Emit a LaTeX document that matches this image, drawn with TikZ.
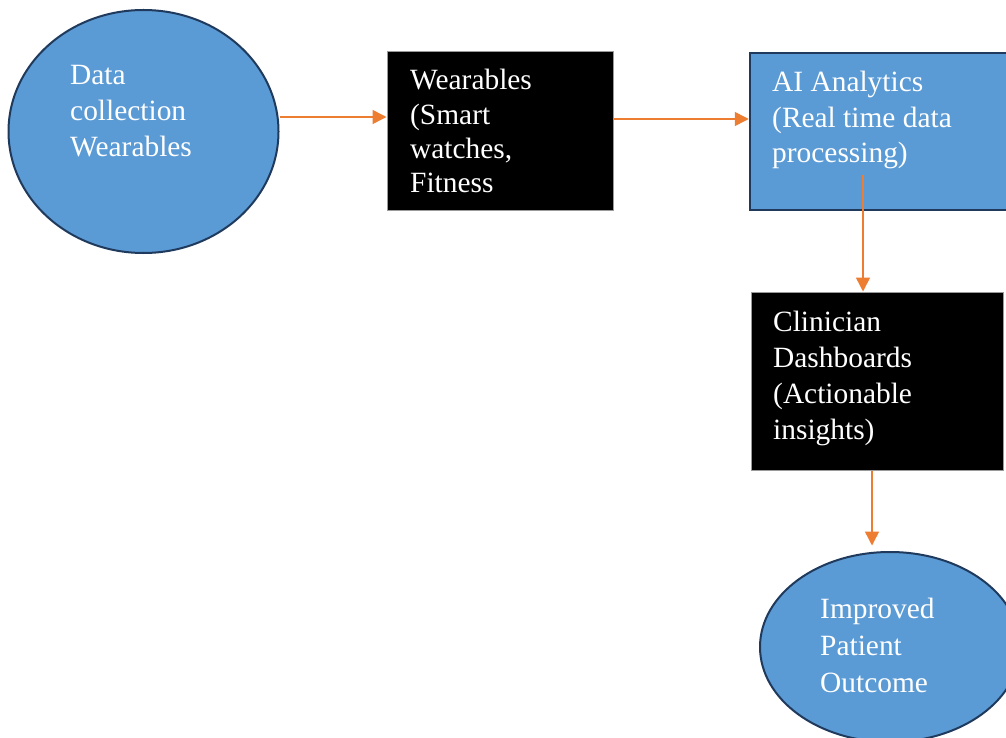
\documentclass[tikz,border=0pt]{standalone}
\usepackage{fontspec}
\setmainfont{Liberation Serif}
\usetikzlibrary{shapes.geometric,arrows.meta}
\definecolor{fillblue}{HTML}{5B9BD5}
\definecolor{edgeblue}{HTML}{1F3A5C}
\definecolor{arroworange}{HTML}{ED7D31}
\definecolor{boxedge}{HTML}{9A9A9A}
\tikzset{
  blueoval/.style={ellipse, fill=fillblue, draw=edgeblue, line width=2pt, inner sep=0pt},
  blackbox/.style={rectangle, fill=black, draw=boxedge, line width=1pt, inner sep=0pt},
  bluebox/.style={rectangle, fill=fillblue, draw=edgeblue, line width=2.5pt, inner sep=0pt},
  txt/.style={anchor=base west, inner sep=0pt, text=white},
  flow/.style={draw=arroworange, line width=1.5pt, -{Triangle[length=14pt,width=14pt]}},
}
\newcommand{\lines}[2]{\fontsize{29.4}{#1}\selectfont\begin{tabular}[t]{@{}l@{}}#2\end{tabular}}
\begin{document}
\begin{tikzpicture}[x=1pt,y=-1pt]
\path[use as bounding box, clip] (0,0) rectangle (1006,738);
\fill[white] (0,0) rectangle (1006,738);
% shapes
\node[blueoval, minimum width=270pt, minimum height=243pt] (e1) at (143.5,131.5) {};
\node[blackbox, minimum width=226pt, minimum height=158pt] (b1) at (500,131) {};
\node[bluebox, minimum width=262pt, minimum height=157pt] (b2) at (881,131.5) {};
\node[blackbox, minimum width=252pt, minimum height=178pt] (b3) at (877,381) {};
\node[blueoval, minimum width=260pt, minimum height=190pt] (e2) at (890,647) {};
% texts
\node[txt] (t1) at (70,85) {\lines{36}{Data\\collection\\Wearables}};
\node[txt] (t2) at (410,90) {\lines{34.3}{Wearables\\(Smart\\watches,\\Fitness}};
\node[txt] (t3) at (772,92) {\lines{35.5}{AI Analytics\\(Real time data\\processing)}};
\node[txt] (t4) at (773,331) {\lines{36.3}{Clinician\\Dashboards\\(Actionable\\insights)}};
\node[txt] (t5) at (820,618) {\lines{37}{Improved\\Patient\\Outcome}};
% connectors
\draw[flow] ([yshift=14.5pt]e1.east) -- ([yshift=14.5pt]e1.east -| b1.west);
\draw[flow] ([yshift=12pt]b1.east) -- ([yshift=12pt]b1.east -| b2.west);
\coordinate (a3s) at (863,175);
\draw[flow] (a3s) -- (a3s |- b3.north);
\coordinate (a4s) at ([xshift=-5pt]b3.south);
\draw[flow, shorten >=5.5pt] (a4s) -- (a4s |- e2.north);
\end{tikzpicture}
\end{document}
